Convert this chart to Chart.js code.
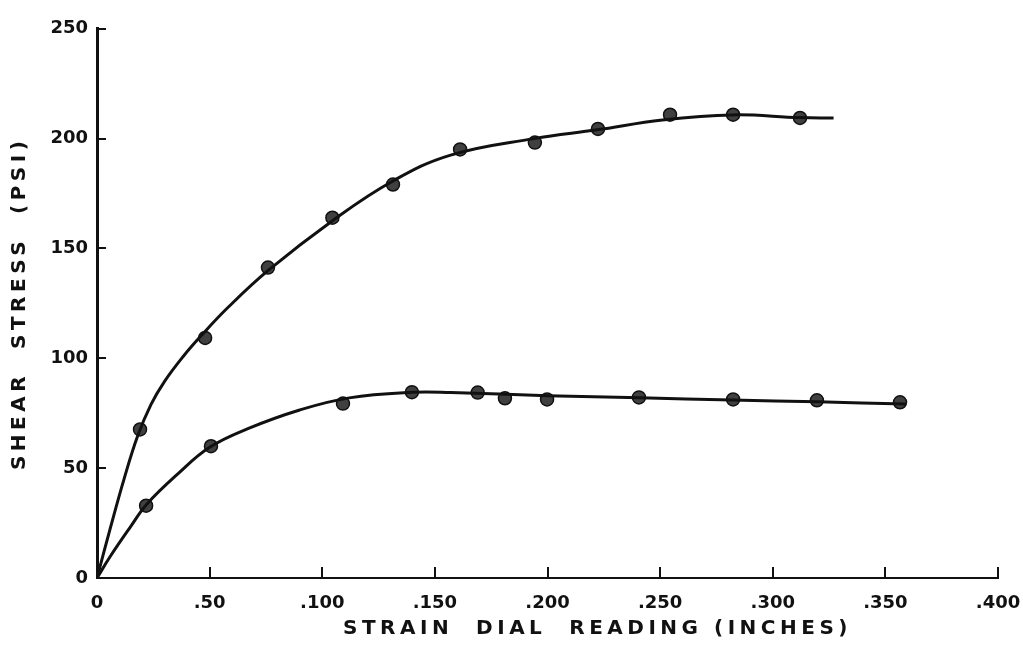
<!DOCTYPE html>
<html>
<head>
<meta charset="utf-8">
<script src="https://cdn.jsdelivr.net/npm/chart.js@4/dist/chart.umd.min.js"></script>
<style>
  html, body { margin: 0; padding: 0; background: #fff; }
  #wrap { width: 1023px; height: 647px; }
</style>
</head>
<body>
<div id="wrap"><canvas id="chart1"></canvas></div>
<script>
// fitted curves
const topCurveX = [0, 0.006, 0.012, 0.018, 0.024, 0.030, 0.038, 0.046, 0.058, 0.076, 0.105, 0.131, 0.157, 0.194, 0.222, 0.251, 0.282, 0.312, 0.327];
const topCurveY = [0, 23, 45, 64.5, 79, 89.5, 100.5, 110, 123, 140, 163, 180.5, 192.5, 200, 204, 208.5, 210.8, 209.6, 209.4];
const botCurveX = [0, 0.006, 0.015, 0.022, 0.036, 0.050, 0.067, 0.090, 0.112, 0.140, 0.157, 0.200, 0.241, 0.282, 0.320, 0.359];
const botCurveY = [0, 10, 23.5, 33.5, 47.5, 59.5, 68, 76.5, 82, 84.5, 84.4, 83, 82, 81, 80.2, 79.2];

// measured points
const topPtsX = [0.0191, 0.048, 0.0759, 0.1045, 0.1314, 0.1612, 0.1944, 0.2224, 0.2544, 0.2824, 0.3121];
const topPtsY = [67.6, 109.3, 141.3, 164, 179.1, 195.1, 198.2, 204.4, 210.9, 210.9, 209.4];
const botPtsX = [0.0218, 0.0506, 0.1092, 0.1398, 0.169, 0.1811, 0.1998, 0.2406, 0.2824, 0.3196, 0.3565];
const botPtsY = [32.9, 60, 79.4, 84.6, 84.4, 81.8, 81.3, 82.2, 81.3, 80.9, 80];

const xTickLabels = ['0', '.50', '.100', '.150', '.200', '.250', '.300', '.350', '.400'];
const yTickLabels = ['0', '50', '100', '150', '200', '250'];

const Ink = '#111';
const Dot = '#404040';

function pairs(xs, ys) {
    return xs.map((x, i) => ({x: x, y: ys[i]}));
}

function curve(xs, ys) {
    return {
        type: 'line',
        data: pairs(xs, ys),
        borderColor: Ink,
        borderWidth: 3,
        pointRadius: 0,
        tension: 0.4,
        fill: false
    };
}

function dots(xs, ys) {
    return {
        type: 'scatter',
        data: pairs(xs, ys),
        pointRadius: 6.5,
        pointBackgroundColor: Dot,
        pointBorderColor: Ink,
        pointBorderWidth: 1.5
    };
}

//titles are lettered wide and sit a little off centre
function wideTitle(s, dx, dy) {
    if (s._wide) return;
    s._wide = true;
    const orig = Object.getPrototypeOf(s).drawTitle;
    s.drawTitle = function() {
        const ctx = this.ctx;
        ctx.save();
        ctx.letterSpacing = '4.5px';
        ctx.translate(dx, dy);
        orig.call(this);
        ctx.restore();
    };
}

const font = {family: 'DejaVu Sans', weight: 'bold', size: 18};
const titleFont = {family: 'DejaVu Sans', weight: 'bold', size: 20};

new Chart('chart1', {
    data: {
        datasets: [
            curve(topCurveX, topCurveY),
            curve(botCurveX, botCurveY),
            dots(topPtsX, topPtsY),
            dots(botPtsX, botPtsY)
        ]
    },
    options: {
        responsive: true,
        maintainAspectRatio: false,
        animation: false,
        events: [],
        layout: {padding: {top: 17, right: 25, left: 0, bottom: 0}},
        plugins: {legend: {display: false}, tooltip: {enabled: false}},
        scales: {
            x: {
                type: 'linear',
                min: 0,
                max: 0.4,
                afterFit(s) {
                    s.height = 69;
                    s.paddingLeft = 0;
                    s.paddingRight = 0;
                    wideTitle(s, 50, 0);
                },
                border: {color: Ink, width: 2},
                grid: {drawOnChartArea: false, drawTicks: true, tickLength: -11, color: Ink, lineWidth: 2},
                ticks: {
                    stepSize: 0.05,
                    padding: 26,
                    color: Ink,
                    font: font,
                    maxRotation: 0,
                    callback: v => xTickLabels[Math.round(v / 0.05)]
                },
                title: {
                    display: true,
                    text: 'STRAIN  DIAL  READING (INCHES)',
                    color: Ink,
                    font: titleFont,
                    padding: {top: 0, bottom: 6}
                }
            },
            y: {
                type: 'linear',
                min: 0,
                max: 250,
                afterFit(s) {
                    s.width = 97;
                    wideTitle(s, 0, 0);
                },
                border: {color: Ink, width: 3},
                grid: {drawOnChartArea: false, drawTicks: true, tickLength: -9, color: Ink, lineWidth: 2},
                ticks: {
                    stepSize: 50,
                    padding: 18,
                    color: Ink,
                    font: font,
                    callback: v => yTickLabels[Math.round(v / 50)]
                },
                title: {
                    display: true,
                    text: 'SHEAR  STRESS  (PSI)',
                    color: Ink,
                    font: titleFont,
                    padding: {top: 8, bottom: 0}
                }
            }
        }
    }
});
</script>
</body>
</html>
